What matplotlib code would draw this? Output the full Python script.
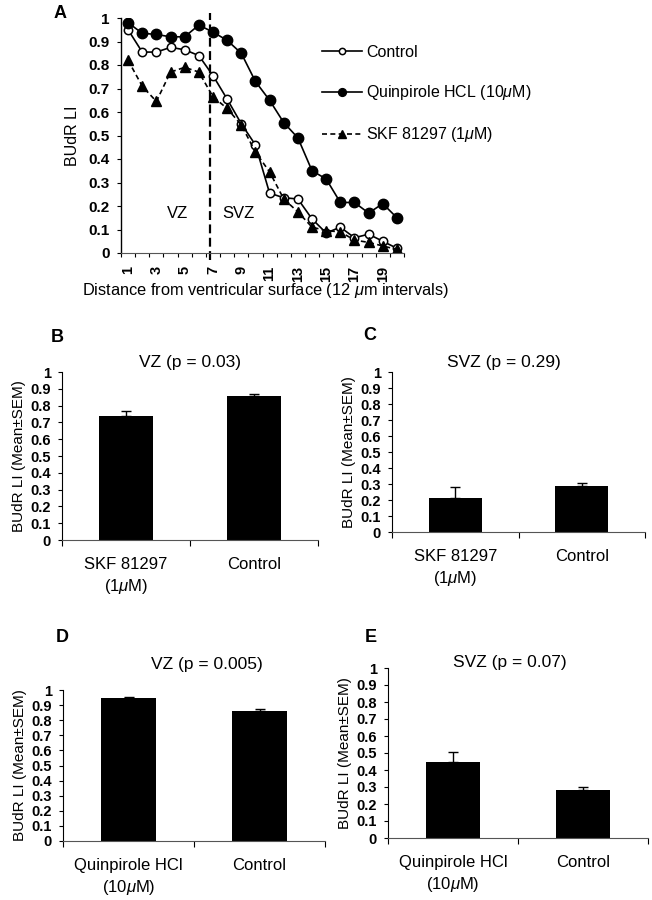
import numpy as np
import matplotlib
matplotlib.use("Agg")
import matplotlib.pyplot as plt

plt.rcParams['font.family'] = ['Liberation Sans', 'DejaVu Sans']
plt.rcParams['mathtext.fontset'] = 'custom'
plt.rcParams['mathtext.rm'] = 'Liberation Sans'
plt.rcParams['mathtext.it'] = 'Liberation Sans:italic'

# ---------------------------------------------------------------
# Data
# panel A: BUdR LI per 12 um bin from the ventricular surface
dist = np.arange(1, 21)
control = [0.95, 0.855, 0.855, 0.875, 0.865, 0.84, 0.755, 0.655, 0.55, 0.46,
           0.255, 0.235, 0.23, 0.145, 0.085, 0.11, 0.065, 0.08, 0.05, 0.02]
quinpirole = [0.98, 0.935, 0.93, 0.92, 0.92, 0.97, 0.94, 0.905, 0.85, 0.73,
              0.65, 0.555, 0.49, 0.35, 0.315, 0.215, 0.215, 0.17, 0.21, 0.15]
skf = [0.82, 0.71, 0.645, 0.77, 0.79, 0.77, 0.665, 0.615, 0.545, 0.43,
       0.345, 0.23, 0.175, 0.11, 0.095, 0.09, 0.055, 0.045, 0.03, 0.015]
vz_svz_border = 6.8

# panels B-E: mean +/- SEM
skf_groups = ["SKF 81297\n(1$\\mu$M)", "Control"]
quin_groups = ["Quinpirole HCl\n(10$\\mu$M)", "Control"]
b_mean, b_sem = [0.74, 0.86], [0.03, 0.012]
c_mean, c_sem = [0.215, 0.29], [0.065, 0.015]
d_mean, d_sem = [0.95, 0.862], [0.006, 0.009]
e_mean, e_sem = [0.45, 0.28], [0.058, 0.021]

W, H = 652, 900


def px(x, y):
    return x / W, 1 - y / H


def rect(l, t, r, b):
    return [l / W, 1 - b / H, (r - l) / W, (b - t) / H]


yt = np.round(np.arange(0, 1.01, 0.1), 1)
ytl = ['0'] + ['%.1f' % v for v in yt[1:-1]] + ['1']

fig = plt.figure(figsize=(6.52, 9), dpi=100)

# ---------------------------------------------------------------
# Panel A
ax = fig.add_axes(rect(121, 18, 404, 253))
ax.plot(dist, control, '-', color='black', lw=1.2, marker='o', ms=6,
        mfc='white', mec='black', mew=1.1, label='Control')
ax.plot(dist, quinpirole, '-', color='black', lw=1.2, marker='o', ms=7.5,
        mfc='black', label='Quinpirole HCL (10$\\mu$M)')
ax.plot(dist, skf, color='black', lw=1.2, ls=(0, (3, 2)), marker='^', ms=7.5,
        mfc='black', label='SKF 81297 (1$\\mu$M)')
ax.axvline(vz_svz_border, ymin=-0.03, ymax=1.02, clip_on=False, color='black',
           lw=1.6, ls=(0, (4, 2)))
ax.set_xlim(0.5, 20.5)
ax.set_ylim(0, 1)
ax.set_yticks(yt)
ax.set_yticklabels(ytl, fontweight='bold', fontsize=11)
ax.set_xticks(np.arange(1, 20, 2))
ax.set_xticklabels([str(v) for v in range(1, 20, 2)], rotation=90,
                   fontweight='bold', fontsize=10.5, va='top')
ax.set_xticks(np.arange(0.5, 20.6, 1), minor=True)
ax.tick_params(axis='x', which='major', length=0, pad=9)
ax.tick_params(axis='x', which='minor', length=3, width=0.8, direction='out')
ax.tick_params(axis='y', length=3, width=0.8, direction='out', pad=5)
for s in ['top', 'right']:
    ax.spines[s].set_visible(False)
ax.spines['bottom'].set_color('#555555')
ax.spines['bottom'].set_linewidth(0.8)
ax.spines['left'].set_linewidth(1.0)
ax.set_ylabel('BUdR LI', fontsize=11.5, labelpad=6)
ax.text(4.5, 0.17, 'VZ', fontsize=12, ha='center', va='center')
ax.text(8.8, 0.17, 'SVZ', fontsize=12, ha='center', va='center')
fig.text(*px(265, 291), 'Distance from ventricular surface (12 $\\mu$m intervals)',
         fontsize=11.8, ha='center', va='center')
ax.legend(loc='upper left', bbox_to_anchor=px(314, 37), bbox_transform=fig.transFigure,
          frameon=False, borderpad=0, handlelength=2.5, handletextpad=0.25,
          labelspacing=1.45, fontsize=11.5, markerscale=0.75)
fig.text(*px(60, 14), 'A', fontsize=13, fontweight='bold', ha='center', va='center')


# ---------------------------------------------------------------
# Panels B-E
def bar_panel(r, groups, means, sems, title, title_xy, letter, letter_xy):
    a = fig.add_axes(r)
    x = np.arange(len(means))
    a.bar(x, means, width=0.42, color='black',
          yerr=[np.zeros(len(sems)), sems], capsize=3.5,
          error_kw=dict(elinewidth=1, capthick=1, ecolor='black'))
    a.set_xlim(-0.5, 1.5)
    a.set_ylim(0, 1)
    a.set_yticks(yt)
    a.set_yticklabels(ytl, fontweight='bold', fontsize=10.5)
    a.set_xticks(x)
    a.set_xticklabels(groups, fontsize=12, linespacing=1.4)
    a.set_xticks([-0.5, 0.5, 1.5], minor=True)
    a.tick_params(axis='x', which='major', length=0, pad=12)
    a.tick_params(axis='x', which='minor', length=4, width=0.8, direction='out')
    a.tick_params(axis='y', length=3, width=0.8, direction='out', pad=5)
    for s in ['top', 'right']:
        a.spines[s].set_visible(False)
    a.spines['bottom'].set_color('#555555')
    a.spines['bottom'].set_linewidth(0.8)
    a.set_ylabel('BUdR LI (Mean\u00b1SEM)', fontsize=11, labelpad=3)
    fig.text(*px(*title_xy), title, fontsize=12.5, ha='center', va='center')
    fig.text(*px(*letter_xy), letter, fontsize=13, fontweight='bold',
             ha='center', va='center')
    return a


bar_panel(rect(62, 372, 318, 540), skf_groups, b_mean, b_sem,
          'VZ (p = 0.03)', (190, 363), 'B', (57, 337))
bar_panel(rect(392, 372, 645, 532), skf_groups, c_mean, c_sem,
          'SVZ (p = 0.29)', (504, 363), 'C', (370, 335))
bar_panel(rect(63, 690, 325, 841), quin_groups, d_mean, d_sem,
          'VZ (p = 0.005)', (207, 665), 'D', (62, 637))
bar_panel(rect(388, 668, 648, 838), quin_groups, e_mean, e_sem,
          'SVZ (p = 0.07)', (510, 663), 'E', (371, 637))

plt.savefig('out.png', dpi=100)
